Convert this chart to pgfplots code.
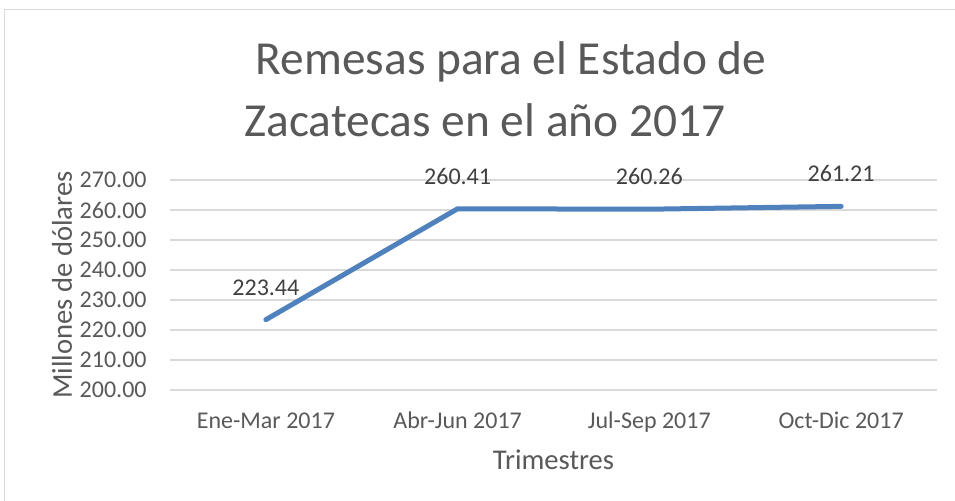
\documentclass[border=0pt]{standalone}
\usepackage{fontspec}
\setmainfont{Carlito}
\usepackage{pgfplots}
\pgfplotsset{compat=1.18}
\definecolor{txtgray}{HTML}{595959}
\definecolor{lblgray}{HTML}{404040}
\definecolor{gridgray}{HTML}{D9D9D9}
\definecolor{lineblue}{HTML}{4F81BD}

\begin{document}
\begin{tikzpicture}
\useasboundingbox (0,0) rectangle (477.5pt,250.5pt);
\fill[white] (0,0) rectangle (477.5pt,250.5pt);
% chart frame (left and top edges only visible)
\draw[gridgray, line width=0.75pt] (2.25pt,-20pt) -- (2.25pt,245.75pt) -- (490pt,245.75pt);
% title
\node[font=\fontsize{23.7}{28}\selectfont, text=txtgray] at (255.5pt,219.5pt) {Remesas para el Estado de};
\node[font=\fontsize{23.7}{28}\selectfont, text=txtgray] at (242.5pt,190.5pt) {Zacatecas en el año 2017};

\begin{axis}[
  at={(85pt,55.5pt)}, anchor=south west,
  scale only axis, width=383.5pt, height=105pt,
  xmin=-0.5, xmax=3.5, ymin=200, ymax=270,
  xtick={0,1,2,3},
  xticklabels={Ene-Mar 2017, Abr-Jun 2017, Jul-Sep 2017, Oct-Dic 2017},
  ytick={200,210,...,270},
  ymajorgrids,
  grid style={gridgray, line width=0.75pt},
  axis line style={draw=none},
  major tick length=0pt,
  tick label style={text=txtgray, font=\fontsize{12}{14}\selectfont, inner sep=0pt},
  xticklabel style={anchor=base, yshift=-19.5pt},
  yticklabel style={anchor=east, xshift=-11.5pt},
  /pgf/number format/.cd, fixed, fixed zerofill, precision=2, 1000 sep={}, assume math mode=true,
  /pgfplots/.cd,
  xlabel={Trimestres},
  ylabel={Millones de dólares},
  label style={text=txtgray, font=\fontsize{14.3}{16}\selectfont},
  xlabel style={at={(axis description cs:0.5,-0.3333)}, anchor=center},
  ylabel style={at={(axis description cs:-0.1408,0.5)}, anchor=center},
  clip=false,
]
\addplot[lineblue, line width=2.5pt, line cap=round, line join=round,
  nodes near coords,
  every node near coord/.append style={anchor=base, yshift=12.3pt, text=lblgray,
    font=\fontsize{12}{14}\selectfont, inner sep=0pt}]
  coordinates {(0,223.44) (1,260.41) (2,260.26) (3,261.21)};
\end{axis}
\end{tikzpicture}
\end{document}
